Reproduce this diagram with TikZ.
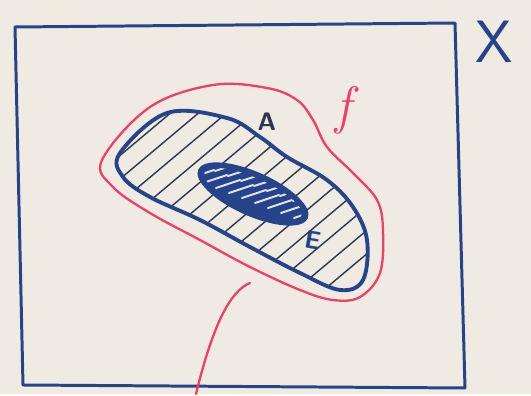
\documentclass[tikz,border=0pt]{standalone}
\usetikzlibrary{calc}

\definecolor{carta}{RGB}{240,235,226}
\definecolor{penna}{RGB}{38,68,138}
\definecolor{rosso}{RGB}{240,62,102}
\definecolor{tratto}{RGB}{45,55,80}

% contorno dell'insieme A
\newcommand{\contornoA}{plot[smooth cycle, tension=0.6] coordinates {
  (120,153) (167,113) (227,118) (260,137) (287,157) (327,180)
  (353,207) (367,240) (363,280) (340,290) (300,273) (250,247)
  (200,220) (150,197) (123,177)}}

\begin{document}
\begin{tikzpicture}[x=0.02cm, y=-0.02cm, line cap=round, line join=round]
    % Foglio
    \fill[carta] (0,0) rectangle (531,394);

    % Spazio X
    \draw[penna, line width=1.7pt] (15,27) -- (455,23) -- (465,388) -- (23,385) -- cycle;
    \node[penna, font=\fontsize{34}{34}\selectfont\sffamily] (labelX) at (494,42) {X};

    % Funzione f (contorno rosso)
    \draw[rosso, line width=1.3pt] plot[smooth cycle, tension=0.6] coordinates {
      (102,160) (150,107) (213,85) (267,88) (297,100) (313,120) (327,147)
      (353,173) (377,200) (383,230) (380,273) (360,297) (333,300)
      (300,290) (250,267) (200,240) (150,213) (113,187)};
    \draw[rosso, line width=1.3pt] (196,394) .. controls (214,320) and (232,290) .. (250,283);
    \node[rosso, font=\fontsize{30}{30}\selectfont\itshape] (labelf) at (343,110) {f};

    % Tratteggio di A
    \begin{scope}
        \clip \contornoA;
        \foreach \i in {0,...,17}
            \draw[tratto, line width=0.8pt] (-160+28*\i,320) -- ++(330,-277);
    \end{scope}
    \draw[penna, line width=2.2pt] \contornoA;
    \node[tratto, font=\Large\sffamily\bfseries] (labelA) at (267,122) {A};

    % Insieme E (pieno)
    \fill[penna, rotate around={-24:(253,194)}] (253,194) ellipse (60 and 22);
    \begin{scope}
        \clip[rotate around={-24:(253,194)}] (253,194) ellipse (53 and 16);
        \foreach \j in {0,...,8}
            \draw[blue!12!white, line width=1.1pt] (190+13*\j,178+5*\j) -- ++(24,-8);
        \foreach \j in {0,...,8}
            \draw[blue!12!white, line width=1.1pt] (202+13*\j,166+5*\j) -- ++(22,-7);
    \end{scope}
    \node[penna, font=\Large\sffamily\bfseries, rotate=-10] (labelE) at (313,240) {E};
\end{tikzpicture}
\end{document}
